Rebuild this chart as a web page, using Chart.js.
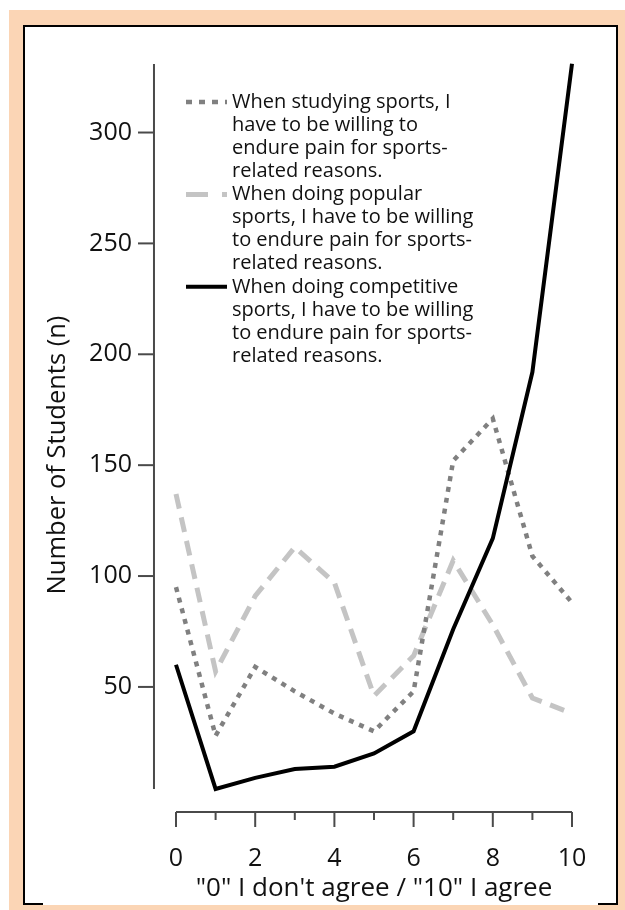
<!DOCTYPE html>
<html>
<head>
<meta charset="utf-8">
<script src="https://cdn.jsdelivr.net/npm/chart.js@4.4.1/dist/chart.umd.min.js"></script>
<style>
  html, body { margin: 0; padding: 0; background: #fff; width: 625px; height: 910px; overflow: hidden; }
  #peach { position: absolute; left: 9px; top: 10px; width: 616px; height: 900px; background: #fbd5b5; }
  #box { position: absolute; left: 23px; top: 25px; width: 595px; height: 880px; box-sizing: border-box;
         background: #fff; border: 2px solid #000; border-bottom: none; }
  .corner { position: absolute; top: 903px; width: 20px; height: 2px; background: #000; }
  #chart { position: absolute; left: 0; top: 0; }
</style>
</head>
<body>
<div id="peach"></div>
<div id="box"></div>
<div class="corner" style="left:23px"></div>
<div class="corner" style="left:598px"></div>
<canvas id="chart" width="625" height="910"></canvas>
<script>
// scale 0..10 answers
const answers = [0, 1, 2, 3, 4, 5, 6, 7, 8, 9, 10];
const studying = [95, 28, 59, 48, 38, 30, 48, 152, 171, 109, 88];
const popular = [137, 57, 91, 113, 97, 46, 64, 107, 78, 45, 38];
const competitive = [60, 4, 9, 13, 14, 20, 30, 76, 117, 192, 331];

const xTickValues = [0, 2, 4, 6, 8, 10];
const yTickValues = [50, 100, 150, 200, 250, 300];

const legendStudying = ['When studying sports, I', 'have to be willing to', 'endure pain for sports-', 'related reasons.'];
const legendPopular = ['When doing popular', 'sports, I have to be willing', 'to endure pain for sports-', 'related reasons.'];
const legendCompetitive = ['When doing competitive', 'sports, I have to be willing', 'to endure pain for sports-', 'related reasons.'];

const yTitle = 'Number of Students (n)';
const xTitle = '"0" I don\'t agree / "10" I agree';

const toPoints = arr => arr.map((v, i) => ({ x: answers[i], y: v }));

Chart.defaults.font.family = '"Open Sans", sans-serif';
Chart.defaults.color = '#111';

// axis lines, tick marks, y title and the legend block
const decor = {
    id: 'decor',
    afterDraw(chart) {
        const { ctx, chartArea, scales: { x, y } } = chart;
        ctx.save();
        ctx.strokeStyle = '#4a4a4a';
        ctx.lineWidth = 2;

        // y axis sits left of the first category
        const yx = x.getPixelForValue(-0.556);
        ctx.beginPath();
        ctx.moveTo(yx, chartArea.top);
        ctx.lineTo(yx, y.getPixelForValue(4));
        ctx.stroke();
        yTickValues.forEach(v => {
            const py = y.getPixelForValue(v);
            ctx.beginPath();
            ctx.moveTo(yx - 16, py);
            ctx.lineTo(yx, py);
            ctx.stroke();
        });

        // x axis, detached below the plot
        const xy = chartArea.bottom;
        ctx.beginPath();
        ctx.moveTo(x.getPixelForValue(0), xy);
        ctx.lineTo(x.getPixelForValue(10), xy);
        ctx.stroke();
        answers.forEach(v => {
            const px = x.getPixelForValue(v);
            ctx.beginPath();
            ctx.moveTo(px, xy);
            ctx.lineTo(px, xy + (v % 2 === 0 ? 15 : 8));
            ctx.stroke();
        });

        // y title
        ctx.fillStyle = '#111';
        ctx.font = '25.5px "Open Sans", sans-serif';
        ctx.textAlign = 'center';
        ctx.textBaseline = 'middle';
        ctx.translate(58, 455);
        ctx.rotate(-Math.PI / 2);
        ctx.fillText(yTitle, 0, 0);
        ctx.restore();

        // legend
        ctx.save();
        ctx.font = '20px "Open Sans", sans-serif';
        ctx.textAlign = 'left';
        ctx.textBaseline = 'middle';
        ctx.fillStyle = '#111';
        const entries = [
            { lines: legendStudying, color: '#808080', dash: [6, 7], width: 4.5 },
            { lines: legendPopular, color: '#c4c4c4', dash: [22, 14], width: 5 },
            { lines: legendCompetitive, color: '#000', dash: [], width: 4 }
        ];
        let ly = 102;
        entries.forEach(e => {
            ctx.strokeStyle = e.color;
            ctx.lineWidth = e.width;
            ctx.setLineDash(e.dash);
            ctx.beginPath();
            ctx.moveTo(186, ly);
            ctx.lineTo(227, ly);
            ctx.stroke();
            ctx.setLineDash([]);
            e.lines.forEach(t => {
                ctx.fillText(t, 232, ly);
                ly += 23.1;
            });
        });
        ctx.restore();
    }
};

new Chart(document.getElementById('chart'), {
    type: 'line',
    data: {
        datasets: [{
            label: 'When doing competitive sports',
            data: toPoints(competitive),
            borderColor: '#000',
            borderWidth: 4,
            order: 1
        }, {
            label: 'When studying sports',
            data: toPoints(studying),
            borderColor: '#808080',
            borderWidth: 4.5,
            borderDash: [5, 6],
            order: 2
        }, {
            label: 'When doing popular sports',
            data: toPoints(popular),
            borderColor: '#c4c4c4',
            borderWidth: 5,
            borderDash: [15, 9],
            order: 3
        }]
    },
    options: {
        responsive: false,
        devicePixelRatio: 1,
        animation: false,
        clip: false,
        elements: { point: { radius: 0 }, line: { tension: 0 } },
        layout: { padding: { top: 64, right: 53, bottom: 0, left: 0 } },
        plugins: { legend: { display: false }, tooltip: { enabled: false } },
        scales: {
            x: {
                type: 'linear',
                min: 0,
                max: 10,
                afterFit: s => { s.height = 98; },
                afterBuildTicks: s => { s.ticks = xTickValues.map(v => ({ value: v })); },
                grid: { display: false, drawTicks: false },
                border: { display: false },
                ticks: { padding: 32, font: { size: 25 }, autoSkip: false, maxRotation: 0 },
                title: { display: true, text: xTitle, font: { size: 26 }, padding: { top: 0, bottom: 6 } }
            },
            y: {
                min: -6.4,
                max: 330.9,
                afterFit: s => { s.width = 176; },
                afterBuildTicks: s => { s.ticks = yTickValues.map(v => ({ value: v })); },
                grid: { display: false, drawTicks: false },
                border: { display: false },
                ticks: { padding: 44, font: { size: 25 } }
            }
        }
    },
    plugins: [decor]
});
</script>
</body>
</html>
